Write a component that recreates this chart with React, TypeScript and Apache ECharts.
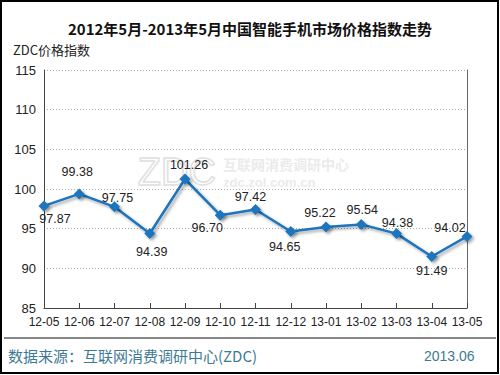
import React, { useEffect, useRef } from "react";
import * as echarts from "echarts";

const months = ["12-05", "12-06", "12-07", "12-08", "12-09", "12-10", "12-11", "12-12", "13-01", "13-02", "13-03", "13-04", "13-05"];
const priceIndex = [97.87, 99.38, 97.75, 94.39, 101.26, 96.7, 97.42, 94.65, 95.22, 95.54, 94.38, 91.49, 94.02];
const yTicks = { min: 85, max: 115, interval: 5 };
const titleText = "2012年5月-2013年5月中国智能手机市场价格指数走势";
const yName = "ZDC价格指数";
const sourceText = "数据来源：互联网消费调研中心(ZDC)";
const dateText = "2013.06";

// label offsets (style) relative to each point
const labelOffsets: [number, number][] = [
  [11, 13], [-2, -22], [3, -9], [2, 18], [4, -14], [-13, 13], [-5, -12],
  [-6, 16], [-6, -14], [1, -14], [1, -11], [0, 14], [-17, -8],
];

export default function App() {
  const ref = useRef<HTMLDivElement>(null);
  useEffect(() => {
    if (!ref.current) return;
    const chart = echarts.init(ref.current, null, { renderer: "svg" });
    const font = "'Liberation Sans', Arial, sans-serif";
    const cjk = "'Noto Sans CJK SC', 'Liberation Sans', sans-serif";
    chart.setOption({
      animation: false,
      backgroundColor: "#ffffff",
      grid: { left: 44, right: 33, top: 70, bottom: 67 },
      xAxis: {
        type: "category",
        data: months,
        boundaryGap: false,
        axisLine: { lineStyle: { color: "#444", width: 1 } },
        axisTick: { inside: true, length: 5, interval: 0, lineStyle: { color: "#444" } },
        axisLabel: { color: "#222", fontSize: 12, fontFamily: font, margin: 8, interval: 0 },
        splitLine: { show: false },
      },
      yAxis: [
        {
          type: "value",
          min: yTicks.min,
          max: yTicks.max,
          interval: yTicks.interval,
          axisLine: { show: true, lineStyle: { color: "#444", width: 1 } },
          axisTick: { show: false },
          axisLabel: { color: "#222", fontSize: 13, fontFamily: font, margin: 8 },
          splitLine: { lineStyle: { color: "#aaa", type: [1, 2] } },
        },
        {
          type: "value",
          position: "right",
          min: yTicks.min,
          max: yTicks.max,
          interval: yTicks.interval,
          axisLine: { show: true, lineStyle: { color: "#666", width: 1 } },
          axisTick: { show: false },
          axisLabel: { show: false },
          splitLine: { show: false },
        },
      ],
      series: [
        {
          type: "line",
          data: priceIndex.map((v, i) => ({
            value: v,
            label: { offset: labelOffsets[i] },
          })),
          yAxisIndex: 0,
          symbol: "diamond",
          symbolSize: 11,
          z: 5,
          lineStyle: {
            color: "#1d74bd",
            width: 2.5,
            shadowColor: "rgba(0,0,0,0.35)",
            shadowBlur: 3,
            shadowOffsetX: 2,
            shadowOffsetY: 2,
          },
          itemStyle: {
            color: "#1d74bd",
            shadowColor: "rgba(0,0,0,0.35)",
            shadowBlur: 3,
            shadowOffsetX: 2,
            shadowOffsetY: 2,
          },
          label: {
            show: true,
            position: "inside",
            color: "#222",
            fontSize: 12.5,
            fontFamily: font,
            formatter: (p: any) => Number(p.value).toFixed(2),
          },
        },
      ],
      graphic: [
        {
          type: "rect",
          shape: { x: 1, y: 1, width: 497, height: 372 },
          style: { fill: "none", stroke: "#000", lineWidth: 2 },
          silent: true,
        },
        {
          type: "text",
          left: "center",
          top: 21,
          style: { text: titleText, fill: "#111", font: `bold 15px ${cjk}` },
        },
        {
          type: "text",
          left: 13,
          top: 43,
          style: { text: yName, fill: "#222", font: `13px ${cjk}` },
        },
        {
          type: "line",
          shape: { x1: 4, y1: 338, x2: 496, y2: 338 },
          style: { stroke: "#111", lineWidth: 1 },
        },
        {
          type: "text",
          left: 8,
          top: 348,
          style: { text: sourceText, fill: "#3e7a93", font: `15px ${cjk}` },
        },
        {
          type: "text",
          left: 424,
          top: 349,
          style: { text: dateText, fill: "#3e7a93", font: `14px ${font}` },
        },
        {
          type: "text",
          left: 137,
          top: 152,
          z: -1,
          silent: true,
          style: { text: "ZDC", fill: "none", stroke: "#e0e0e0", lineWidth: 1.5, font: `38px ${font}` },
        },
        {
          type: "text",
          left: 223,
          top: 157,
          z: -1,
          silent: true,
          style: { text: "互联网消费调研中心", fill: "#ebebeb", font: `bold 14px ${cjk}` },
        },
        {
          type: "text",
          left: 223,
          top: 176,
          z: -1,
          silent: true,
          style: { text: "zdc.zol.com.cn", fill: "#ebebeb", font: `bold 13px ${font}` },
        },
      ],
    });
    return () => chart.dispose();
  }, []);
  return <div ref={ref} style={{ position: "fixed", left: 0, top: 0, width: 500, height: 375 }} />;
}
